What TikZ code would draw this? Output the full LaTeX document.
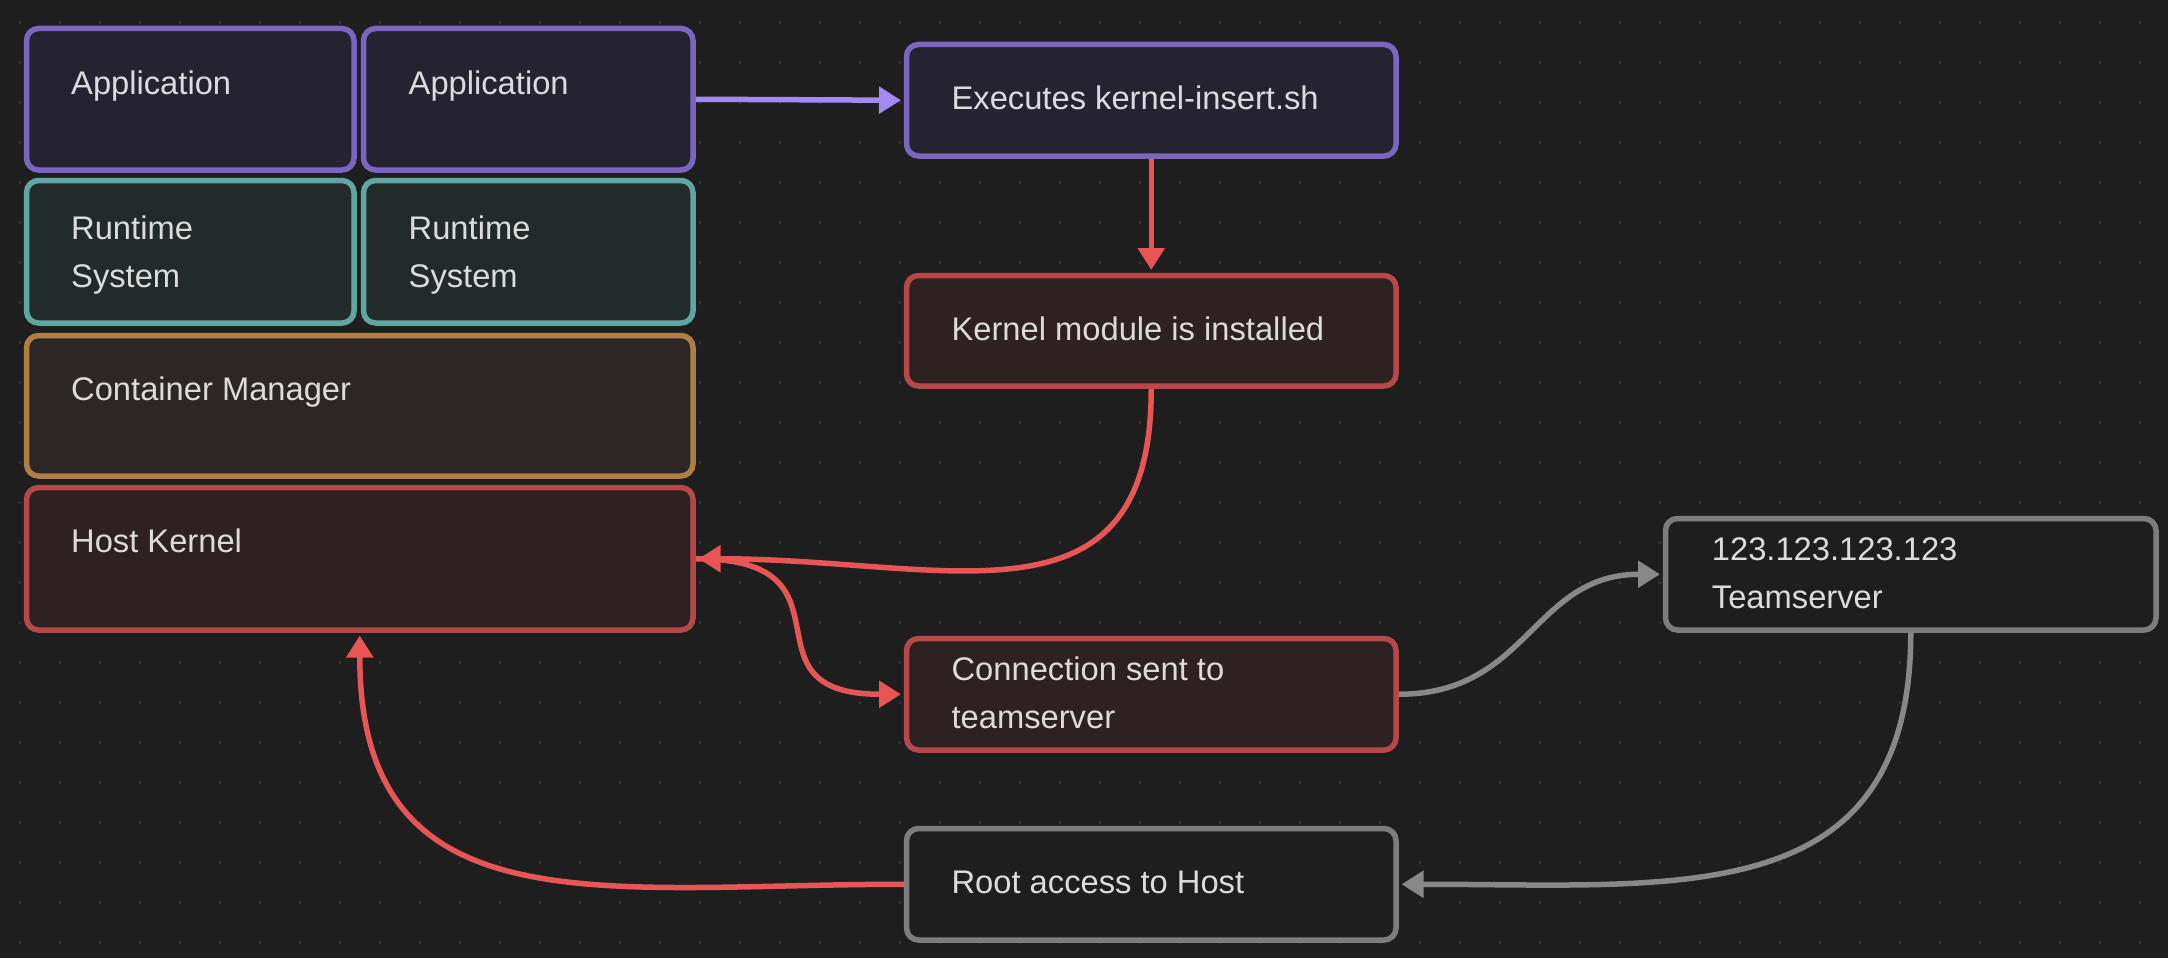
\documentclass[tikz,border=0pt]{standalone}
\usepackage{fontspec}
\setmainfont{Liberation Sans}
\usetikzlibrary{arrows.meta}
\definecolor{bg}{HTML}{1E1E1E}
\definecolor{griddot}{HTML}{333333}
\definecolor{txt}{HTML}{DCDCDC}
\definecolor{purpB}{HTML}{7B65C1}
\definecolor{purpF}{HTML}{252330}
\definecolor{purpE}{HTML}{A28AF2}
\definecolor{tealB}{HTML}{5FA5A1}
\definecolor{tealF}{HTML}{222A2A}
\definecolor{orB}{HTML}{B07E45}
\definecolor{orF}{HTML}{2C2724}
\definecolor{redB}{HTML}{B64848}
\definecolor{redF}{HTML}{2D2121}
\definecolor{redE}{HTML}{E85555}
\definecolor{grayB}{HTML}{7D7D7D}
\definecolor{grayE}{HTML}{888888}
\tikzset{
  box/.style={draw, line width=5.5pt, rounded corners=12pt, inner sep=0pt, anchor=north west},
  purplebox/.style={box, draw=purpB, fill=purpF},
  tealbox/.style={box, draw=tealB, fill=tealF},
  orangebox/.style={box, draw=orB, fill=orF},
  redbox/.style={box, draw=redB, fill=redF},
  graybox/.style={box, draw=grayB, fill=bg},
  lbl/.style={anchor=base west, inner sep=0pt, text=txt, font=\fontsize{32.7}{48}\selectfont},
  edge/.style={line width=5.5pt, -{Triangle[length=22pt,width=26pt]}, shorten >=2.75pt},
  purpleedge/.style={edge, draw=purpE},
  rededge/.style={edge, draw=redE},
  grayedge/.style={edge, draw=grayE},
}
\begin{document}
\begin{tikzpicture}[x=1pt,y=-1pt]
\useasboundingbox (0,0) rectangle (2168,958);
\fill[bg] (0,0) rectangle (2168,958);
\foreach \i in {0,...,53} {
  \foreach \j in {0,...,23} {
    \fill[griddot] ({20+40*\i},{22.7+40*\j}) circle (1.6pt);
  }
}
% boxes
\node[purplebox, minimum width=327.5pt, minimum height=141.5pt] (app1) at (23.75,25.75) {};
\node[purplebox, minimum width=329.5pt, minimum height=141.5pt] (app2) at (360.75,25.75) {};
\node[tealbox, minimum width=327.5pt, minimum height=142.5pt] (rt1) at (23.75,177.75) {};
\node[tealbox, minimum width=329.5pt, minimum height=142.5pt] (rt2) at (360.75,177.75) {};
\node[orangebox, minimum width=666.5pt, minimum height=140.5pt] (cm) at (23.75,332.75) {};
\node[redbox, minimum width=666.5pt, minimum height=142.5pt] (hk) at (23.75,484.75) {};
\node[purplebox, minimum width=489.5pt, minimum height=111.5pt] (exec) at (903.75,41.75) {};
\node[redbox, minimum width=489.5pt, minimum height=110.5pt] (km) at (903.75,272.75) {};
\node[redbox, minimum width=489.5pt, minimum height=111.5pt] (conn) at (903.75,635.75) {};
\node[graybox, minimum width=489.5pt, minimum height=111.5pt] (root) at (903.75,825.75) {};
\node[graybox, minimum width=490.5pt, minimum height=111.5pt] (ts) at (1662.75,515.75) {};
% labels
\node[lbl] (t1) at (71,94.5) {Application};
\node[lbl] (t2) at (408.5,94.5) {Application};
\node[lbl] (t3) at (71,239.6) {Runtime};
\node[lbl] (t4) at (71,287.6) {System};
\node[lbl] (t5) at (408.5,239.6) {Runtime};
\node[lbl] (t6) at (408.5,287.6) {System};
\node[lbl] (t7) at (71,400) {Container Manager};
\node[lbl] (t8) at (71,552) {Host Kernel};
\node[lbl] (t9) at (951.4,110) {Executes kernel-insert.sh};
\node[lbl] (t10) at (951.4,340) {Kernel module is installed};
\node[lbl] (t11) at (951.4,680) {Connection sent to};
\node[lbl] (t12) at (951.4,728) {teamserver};
\node[lbl] (t13) at (951.4,893.3) {Root access to Host};
\node[lbl] (t14) at (1711.7,560) {123.123.123.123};
\node[lbl] (t15) at (1711.7,608.3) {Teamserver};
% edges
\draw[purpleedge] (app2.east) -- (exec.west);
\draw[rededge] (exec.south) -- (km.north);
\draw[rededge] (km.south) .. controls +(0,250) and +(250,0) .. (hk.east);
\draw[rededge] (hk.east) .. controls +(170,0) and +(-170,0) .. (conn.west);
\draw[grayedge] (conn.east) .. controls +(130,0) and +(-130,0) .. (ts.west);
\draw[grayedge] (ts.south) .. controls +(0,280) and +(280,0) .. (root.east);
\draw[rededge] (root.west) .. controls +(-300,0) and +(0,300) .. (hk.south);
\end{tikzpicture}
\end{document}
